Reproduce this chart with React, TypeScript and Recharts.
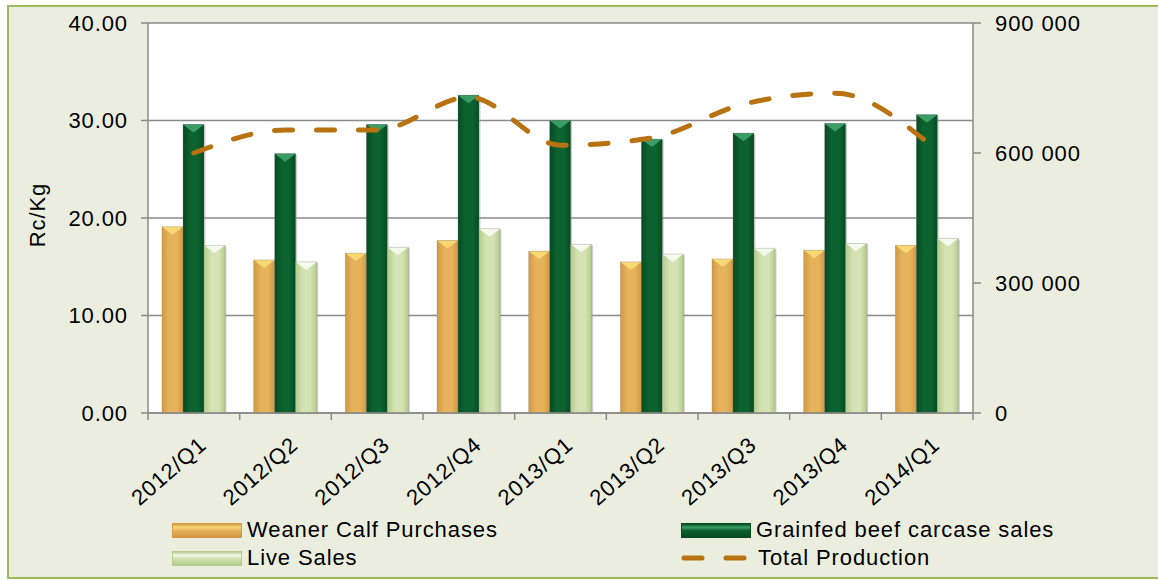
import React from 'react';
import { ComposedChart, Bar, Line, XAxis, YAxis, CartesianGrid } from 'recharts';

const categories = ['2012/Q1', '2012/Q2', '2012/Q3', '2012/Q4', '2013/Q1', '2013/Q2', '2013/Q3', '2013/Q4', '2014/Q1'];
const weanerCalfPurchases = [19.1, 15.7, 16.4, 17.7, 16.6, 15.5, 15.8, 16.7, 17.2];
const grainfedCarcaseSales = [29.6, 26.6, 29.6, 32.6, 30.0, 28.1, 28.7, 29.7, 30.6];
const liveSales = [17.2, 15.5, 17.0, 18.9, 17.3, 16.3, 16.9, 17.4, 17.9];
const totalProduction = [600000, 653000, 653000, 729000, 618000, 635000, 713000, 738000, 625000];
const leftTicks = [0, 10, 20, 30, 40];
const rightTicks = [0, 300000, 600000, 900000];
const seriesNames = {
  weaner: 'Weaner Calf Purchases',
  grainfed: 'Grainfed beef carcase sales',
  live: 'Live Sales',
  total: 'Total Production',
};

const data = categories.map((c, i) => ({
  category: c,
  weaner: weanerCalfPurchases[i],
  grainfed: grainfedCarcaseSales[i],
  live: liveSales[i],
  total: totalProduction[i],
}));

const FONT = "'Liberation Sans', Arial, sans-serif";
const FS = 22;
const LS = '0.9px';
const GRID = '#8a8a8a';
const LINE = '#B8720F';
const BG = '#EBEEDF';

const palettes: Record<string, { edge: string; mid: string; top: string }> = {
  weaner: { edge: '#D29A42', mid: '#E6B35C', top: '#F8D873' },
  grainfed: { edge: '#064B22', mid: '#0C6330', top: '#3A9D66' },
  live: { edge: '#B5CB8C', mid: '#D3E3B3', top: '#F6FAEC' },
};

const BevelBar = (props: any) => {
  const { x, y, width, height, kind } = props;
  if (!height || height <= 0) return null;
  const bevel = Math.min(8, height);
  return (
    <g>
      <rect x={x + 1.5} y={y + 1} width={width} height={height} fill="#9a9a9a" opacity={0.45} />
      <rect x={x} y={y} width={width} height={height} fill={`url(#grad-${kind})`} />
      <polygon
        points={`${x},${y} ${x + width},${y} ${x + width / 2},${y + bevel}`}
        fill={palettes[kind].top}
      />
      <rect x={x} y={y} width={width} height={height} fill="none" stroke="#7a7a7a" strokeOpacity={0.35} strokeWidth={0.8} />
    </g>
  );
};

const fmtRight = (v: number) => String(v).replace(/\B(?=(\d{3})+(?!\d))/g, ' ');

const XTick = (props: any) => {
  const { x, y, payload, index, visibleTicksCount } = props;
  const half = payload && typeof payload.offset === 'number' ? payload.offset : 0;
  const last = index === (visibleTicksCount ?? categories.length) - 1;
  return (
    <g>
      <line x1={x - half} x2={x - half} y1={y - 7} y2={y} stroke={GRID} strokeWidth={1.5} />
      {last && <line x1={x + half} x2={x + half} y1={y - 7} y2={y} stroke={GRID} strokeWidth={1.5} />}
      <g transform={`translate(${x + 14},${y + 27})`}>
        <text
          textAnchor="end"
          transform="rotate(-41)"
          fontFamily={FONT}
          fontSize={FS}
          style={{ letterSpacing: LS }}
          fill="#000"
        >
          {payload.value}
        </text>
      </g>
    </g>
  );
};

const YLabel = (props: any) => {
  const vb = props.viewBox || { x: 0, y: 0, width: 0, height: 0 };
  const cx = vb.x + 37;
  const cy = vb.y + vb.height / 2 - 3;
  return (
    <text
      x={cx}
      y={cy}
      transform={`rotate(-90, ${cx}, ${cy})`}
      textAnchor="middle"
      dominantBaseline="central"
      fontFamily={FONT}
      fontSize={FS}
      style={{ letterSpacing: LS }}
      fill="#000"
    >
      Rc/Kg
    </text>
  );
};

const legendItems = [
  { key: 'weaner', label: seriesNames.weaner, col: 0, row: 0 },
  { key: 'grainfed', label: seriesNames.grainfed, col: 1, row: 0 },
  { key: 'live', label: seriesNames.live, col: 0, row: 1 },
  { key: 'total', label: seriesNames.total, col: 1, row: 1 },
];

const LegendSwatch = ({ kind }: { kind: string }) => {
  if (kind === 'total') {
    return (
      <svg width={72} height={16} style={{ display: 'block' }}>
        <line x1={3} x2={69} y1={8} y2={8} stroke={LINE} strokeWidth={5} strokeLinecap="round" strokeDasharray="18 24" />
      </svg>
    );
  }
  const p = palettes[kind];
  return (
    <div
      style={{
        width: 70,
        height: 15,
        boxSizing: 'border-box',
        border: `1px solid ${p.edge}`,
        background: `linear-gradient(to bottom, ${p.edge} 0%, ${p.top} 25%, ${p.mid} 50%, ${p.edge} 100%)`,
      }}
    />
  );
};

export default function App() {
  return (
    <div style={{ position: 'fixed', left: 0, top: 0, width: 1158, height: 580, background: '#fff', overflow: 'hidden' }}>
      <div
        style={{
          position: 'absolute',
          left: 7,
          top: 5,
          width: 1170,
          height: 574,
          boxSizing: 'border-box',
          border: '2px solid #9BBB59',
          background: BG,
        }}
      />
      <div style={{ position: 'absolute', left: 0, top: 0 }}>
        <ComposedChart
          width={1158}
          height={580}
          data={data}
          margin={{ top: 23, right: 0, bottom: 0, left: 0 }}
          barCategoryGap={14}
          barGap={0}
        >
          <defs>
            {Object.keys(palettes).map((k) => (
              <linearGradient key={k} id={`grad-${k}`} x1="0" y1="0" x2="1" y2="0">
                <stop offset="0%" stopColor={palettes[k].edge} />
                <stop offset="35%" stopColor={palettes[k].mid} />
                <stop offset="70%" stopColor={palettes[k].mid} />
                <stop offset="100%" stopColor={palettes[k].edge} />
              </linearGradient>
            ))}
          </defs>
          <CartesianGrid vertical={false} stroke={GRID} strokeWidth={1.5} fill="#ffffff" yAxisId="left" />
          <XAxis
            dataKey="category"
            height={167}
            tickLine={false}
            tickSize={7}
            tickMargin={0}
            axisLine={{ stroke: GRID, strokeWidth: 1.5 }}
            tick={<XTick />}
            interval={0}
          />
          <YAxis
            yAxisId="left"
            orientation="left"
            width={148}
            domain={[0, 40]}
            ticks={leftTicks}
            tickFormatter={(v: number) => v.toFixed(2)}
            tickSize={7}
            tickMargin={13}
            tickLine={{ stroke: GRID, strokeWidth: 1.5 }}
            axisLine={{ stroke: GRID, strokeWidth: 1.5 }}
            tick={{ fontFamily: FONT, fontSize: FS, fill: '#000', style: { letterSpacing: LS } }}
            label={<YLabel />}
          />
          <YAxis
            yAxisId="right"
            orientation="right"
            width={185}
            domain={[0, 900000]}
            ticks={rightTicks}
            tickFormatter={fmtRight}
            tickSize={8}
            tickMargin={14}
            tickLine={{ stroke: GRID, strokeWidth: 1.5 }}
            axisLine={{ stroke: GRID, strokeWidth: 1.5 }}
            tick={{ fontFamily: FONT, fontSize: FS, fill: '#000', style: { letterSpacing: LS } }}
          />
          <Bar yAxisId="left" dataKey="weaner" name={seriesNames.weaner} isAnimationActive={false} shape={(p: any) => <BevelBar {...p} kind="weaner" />} />
          <Bar yAxisId="left" dataKey="grainfed" name={seriesNames.grainfed} isAnimationActive={false} shape={(p: any) => <BevelBar {...p} kind="grainfed" />} />
          <Bar yAxisId="left" dataKey="live" name={seriesNames.live} isAnimationActive={false} shape={(p: any) => <BevelBar {...p} kind="live" />} />
          <Line
            yAxisId="right"
            dataKey="total"
            name={seriesNames.total}
            type="monotone"
            stroke={LINE}
            strokeWidth={5}
            strokeDasharray="18 24"
            strokeLinecap="round"
            dot={false}
            activeDot={false}
            isAnimationActive={false}
          />
        </ComposedChart>
      </div>
      {legendItems.map((it) => (
        <div
          key={it.key}
          style={{
            position: 'absolute',
            left: it.col === 0 ? 172 : 681,
            top: it.row === 0 ? 516 : 544,
            height: 28,
            display: 'flex',
            alignItems: 'center',
            fontFamily: FONT,
            fontSize: FS,
            letterSpacing: LS,
            color: '#000',
            whiteSpace: 'nowrap',
          }}
        >
          <LegendSwatch kind={it.key} />
          <span style={{ marginLeft: 5 }}>{it.label}</span>
        </div>
      ))}
    </div>
  );
}
